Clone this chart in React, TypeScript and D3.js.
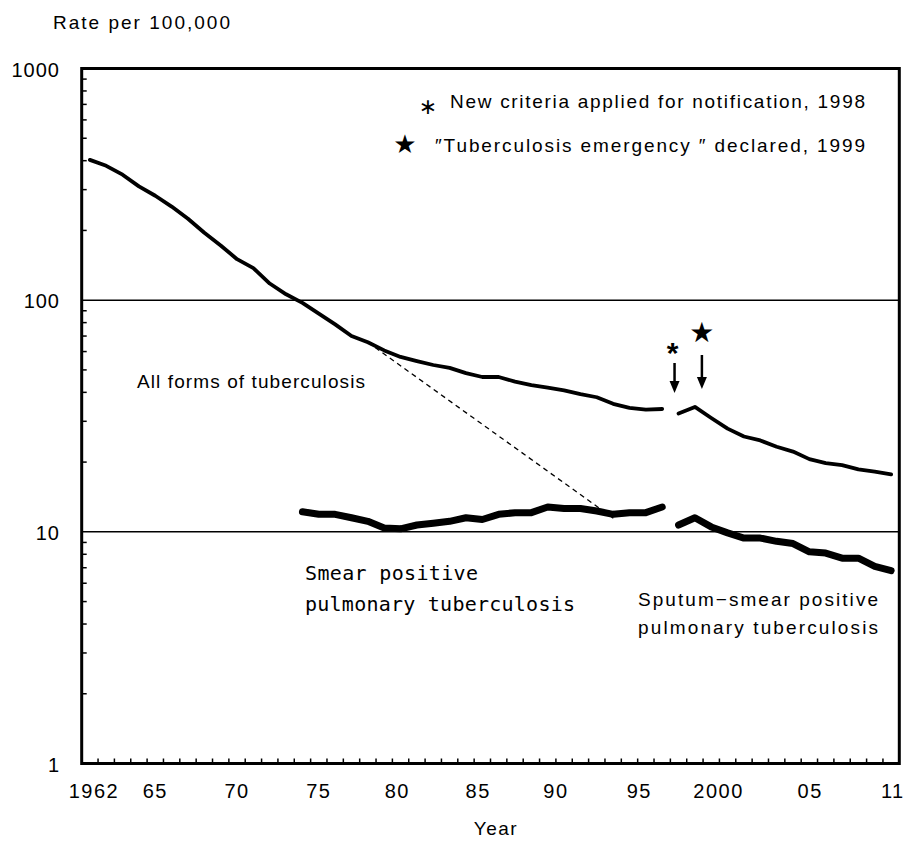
import React from "react";
import * as d3 from "d3";

// All forms of tuberculosis, rate per 100,000
const allFormsStart1 = 1962;
const allForms1 = [
  403.2, 380.2, 348.0, 309.9, 282.3, 253.6, 224.5, 195.4, 172.3, 150.3, 137.5,
  118.0, 106.0, 97.3, 87.5, 78.6, 70.0, 65.8, 60.7, 56.9, 54.6, 52.5, 51.0,
  48.4, 46.6, 46.6, 44.5, 43.0, 41.9, 40.8, 39.3, 38.1, 35.7, 34.3, 33.7, 33.9,
];
const allFormsStart2 = 1998;
const allForms2 = [32.4, 34.6, 31.0, 27.9, 25.8, 24.8, 23.3, 22.2, 20.6, 19.8, 19.4, 18.6, 18.2, 17.7];

// Smear positive pulmonary tuberculosis
const smearStart1 = 1975;
const smear1 = [
  12.2, 11.9, 11.9, 11.5, 11.1, 10.4, 10.3, 10.7, 10.9, 11.1, 11.5, 11.3, 11.9,
  12.1, 12.1, 12.8, 12.6, 12.6, 12.3, 11.9, 12.1, 12.1, 12.8,
];
const smearStart2 = 1998;
const smear2 = [10.7, 11.5, 10.5, 9.9, 9.4, 9.4, 9.1, 8.9, 8.2, 8.1, 7.7, 7.7, 7.1, 6.8];

// dashed projection line (year, rate)
const projection: [number, number][] = [
  [1979, 65.8],
  [1994.2, 11.2],
];

const firstYear = 1962;
const lastYear = 2011;
const xTickLabels = ["1962", "65", "70", "75", "80", "85", "90", "95", "2000", "05", "11"];
const xTickAt = [1962.25, 1966, 1971, 1976, 1980.8, 1985.75, 1990.5, 1995.6, 2000.45, 2006.05, 2011.1];
const yTickValues = [1, 10, 100, 1000];

const sans = "'Liberation Sans', Arial, sans-serif";

function toPoints(start: number, values: number[]): [number, number][] {
  return values.map((v, i) => [start + i, v]);
}

export default function App() {
  const width = 911;
  const height = 841;
  const left = 81.7;
  const right = 899.3;
  const top = 68.5;
  const bottom = 763.5;

  const x = d3.scaleLinear().domain([firstYear - 0.5, lastYear + 0.5]).range([left, right]);
  const y = d3.scaleLog().domain([1, 1000]).range([bottom, top]);

  const line = d3
    .line<[number, number]>()
    .x((d) => x(d[0]))
    .y((d) => y(d[1]));

  // minor ticks on log axis
  const minor: number[] = [];
  [1, 10, 100].forEach((dec) => {
    for (let k = 2; k <= 9; k++) minor.push(dec * k);
  });

  // category boundaries
  const bounds = d3.range(firstYear + 0.5, lastYear, 1);

  const x98 = x(1998) - 4;
  const x99 = x(1999) + 7;

  return (
    <svg width={width} height={height} style={{ display: "block", position: "absolute", left: 0, top: 0 }}>
      <rect width={width} height={height} fill="#fff" />

      <text x={53} y={29} fontFamily={sans} fontSize={19} textLength={177} lengthAdjust="spacing">
        Rate per 100,000
      </text>

      {/* gridlines */}
      {[10, 100].map((v) => (
        <line key={v} x1={left} x2={right} y1={y(v)} y2={y(v)} stroke="#000" strokeWidth={1.5} />
      ))}

      {/* minor y ticks */}
      {minor.map((v) => (
        <line key={v} x1={left} x2={left + 5} y1={y(v)} y2={y(v)} stroke="#000" strokeWidth={1.5} />
      ))}

      {/* x ticks between categories */}
      {bounds.map((b) => (
        <line key={b} x1={x(b)} x2={x(b)} y1={bottom} y2={bottom - 5} stroke="#000" strokeWidth={1.5} />
      ))}

      {/* frame */}
      <rect x={left} y={top} width={right - left} height={bottom - top} fill="none" stroke="#000" strokeWidth={3} />

      {/* y labels */}
      {yTickValues.map((v) => (
        <text key={v} x={60} y={y(v) + 8} textAnchor="end" fontFamily={sans} fontSize={20} letterSpacing={1}>
          {v}
        </text>
      ))}

      {/* x labels */}
      {xTickLabels.map((t, i) => (
        <text key={t} x={x(xTickAt[i])} y={798} textAnchor="middle" fontFamily={sans} fontSize={20} letterSpacing={1.5}>
          {t}
        </text>
      ))}
      <text x={496} y={835} textAnchor="middle" fontFamily={sans} fontSize={19} letterSpacing={1.5}>
        Year
      </text>

      {/* dashed projection */}
      <path d={line(projection) || ""} fill="none" stroke="#000" strokeWidth={1.3} strokeDasharray="5,4" />

      {/* series */}
      {[toPoints(allFormsStart1, allForms1), toPoints(allFormsStart2, allForms2)].map((pts, i) => (
        <path key={"a" + i} d={line(pts) || ""} fill="none" stroke="#000" strokeWidth={3.8} strokeLinecap="round" strokeLinejoin="round" />
      ))}
      {[toPoints(smearStart1, smear1), toPoints(smearStart2, smear2)].map((pts, i) => (
        <path key={"s" + i} d={line(pts) || ""} fill="none" stroke="#000" strokeWidth={7} strokeLinecap="round" strokeLinejoin="round" />
      ))}

      {/* annotation legend */}
      <text x={428} y={114} textAnchor="middle" fontFamily="'DejaVu Sans', sans-serif" fontSize={22}>
        ∗
      </text>
      <text x={450} y={108} fontFamily={sans} fontSize={19} textLength={415} lengthAdjust="spacing">
        New criteria applied for notification, 1998
      </text>
      <text x={405} y={153} textAnchor="middle" fontFamily="'DejaVu Sans', sans-serif" fontSize={26}>
        ★
      </text>
      <text x={435} y={152} fontFamily={sans} fontSize={19} textLength={430} lengthAdjust="spacing">
        ″Tuberculosis emergency ″ declared, 1999
      </text>

      {/* markers with arrows */}
      <text x={x98 - 2} y={363} textAnchor="middle" fontFamily={sans} fontSize={30} fontWeight="bold">
        *
      </text>
      <line x1={x98} x2={x98} y1={363} y2={382} stroke="#000" strokeWidth={2.5} />
      <path d={`M${x98 - 5},381 L${x98 + 5},381 L${x98},393 Z`} fill="#000" />
      <text x={x99} y={342} textAnchor="middle" fontFamily="'DejaVu Sans', sans-serif" fontSize={28}>
        ★
      </text>
      <line x1={x99} x2={x99} y1={355} y2={378} stroke="#000" strokeWidth={2.5} />
      <path d={`M${x99 - 5},377 L${x99 + 5},377 L${x99},389 Z`} fill="#000" />

      {/* series labels */}
      <text x={137} y={388} fontFamily={sans} fontSize={19} textLength={228} lengthAdjust="spacing">
        All forms of tuberculosis
      </text>
      <text x={305} y={580} fontFamily="'DejaVu Sans Mono', monospace" fontSize={20} textLength={173} lengthAdjust="spacing">
        Smear positive
      </text>
      <text x={305} y={611} fontFamily="'DejaVu Sans Mono', monospace" fontSize={20} textLength={270} lengthAdjust="spacing">
        pulmonary tuberculosis
      </text>
      <text x={638} y={606} fontFamily={sans} fontSize={19} textLength={240} lengthAdjust="spacing">
        Sputum−smear positive
      </text>
      <text x={638} y={634} fontFamily={sans} fontSize={19} textLength={240} lengthAdjust="spacing">
        pulmonary tuberculosis
      </text>
    </svg>
  );
}
